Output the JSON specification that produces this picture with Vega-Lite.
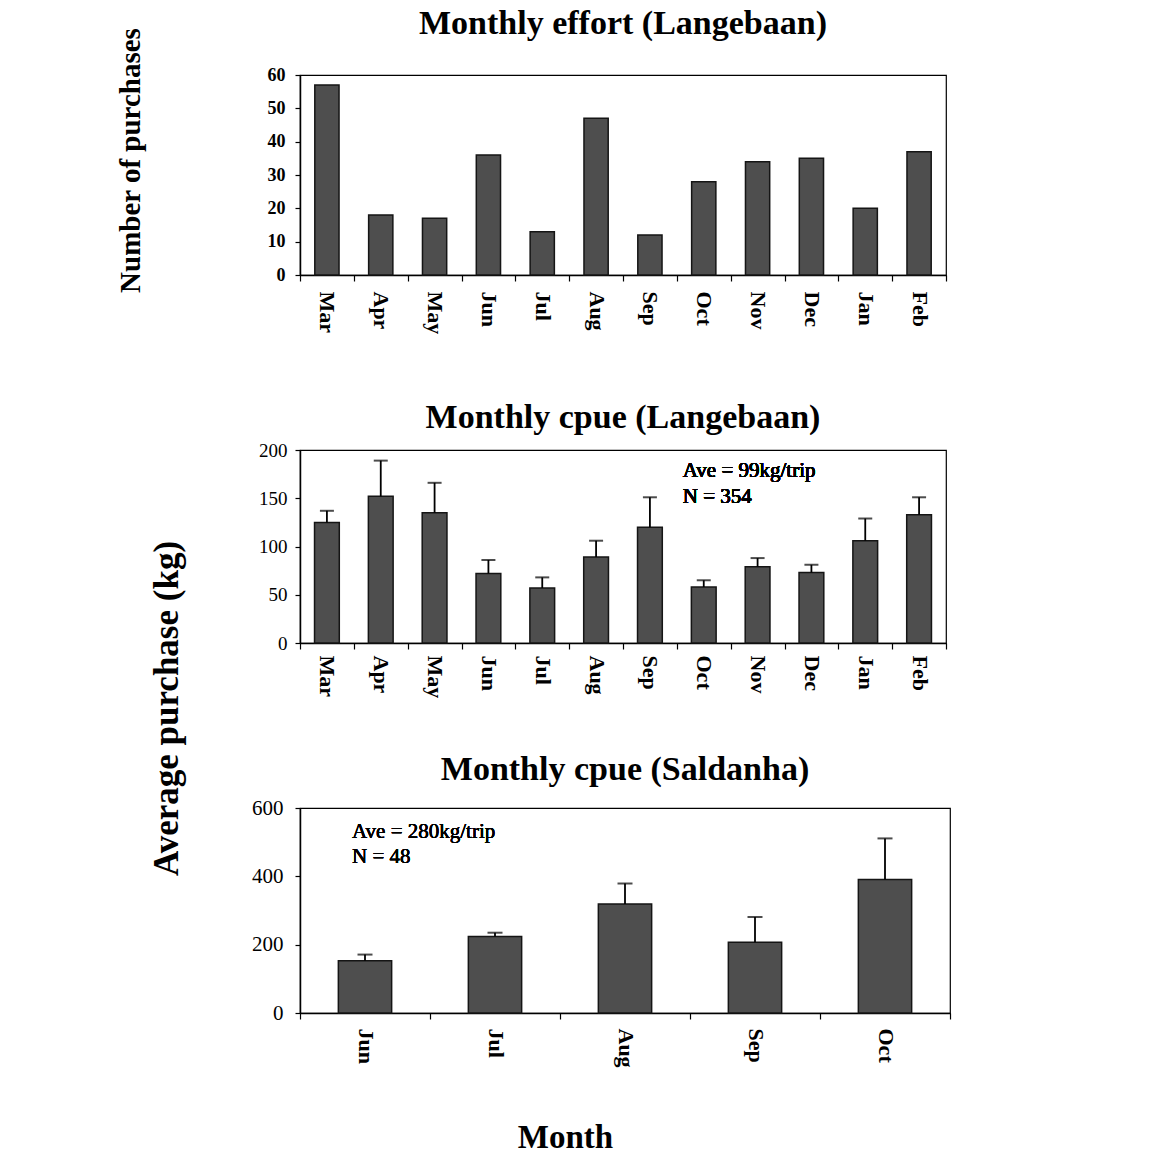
{
  "$schema": "https://vega.github.io/schema/vega-lite/v6.json",
  "background": "white",
  "padding": {"left": 115, "top": 6, "right": 20, "bottom": 10},
  "config": {
    "font": "Liberation Serif",
    "view": {"stroke": "#000", "strokeWidth": 1.2},
    "axis": {
      "domainColor": "#000",
      "domainWidth": 1.5,
      "tickColor": "#000",
      "tickWidth": 1.2,
      "labelColor": "#000",
      "titleColor": "#000",
      "labelFont": "Liberation Serif",
      "titleFont": "Liberation Serif",
      "grid": false
    },
    "title": {"font": "Liberation Serif", "fontWeight": "bold", "color": "#000", "anchor": "middle", "frame": "group"}
  },
  "spacing": 175,
  "bounds": "flush",
  "vconcat": [
    {
      "width": 646,
      "height": 200,
      "title": {"text": "Monthly effort (Langebaan)", "fontSize": 34, "offset": -14},
      "data": {
        "values": [
          {"month": "Mar", "purchases": 57},
          {"month": "Apr", "purchases": 18},
          {"month": "May", "purchases": 17},
          {"month": "Jun", "purchases": 36},
          {"month": "Jul", "purchases": 13},
          {"month": "Aug", "purchases": 47},
          {"month": "Sep", "purchases": 12},
          {"month": "Oct", "purchases": 28},
          {"month": "Nov", "purchases": 34},
          {"month": "Dec", "purchases": 35},
          {"month": "Jan", "purchases": 20},
          {"month": "Feb", "purchases": 37}
        ]
      },
      "mark": {"type": "bar", "width": {"band": 0.45}, "fill": "#4e4e4e", "stroke": "#151515", "strokeWidth": 1.5},
      "encoding": {
        "x": {
          "field": "month", "type": "nominal", "sort": null,
          "scale": {"paddingInner": 0, "paddingOuter": 0},
          "axis": {"title": null, "labelAngle": 90, "labelFontSize": 22, "labelFontWeight": "bold", "labelPadding": 10, "tickBand": "extent", "tickSize": 6}
        },
        "y": {
          "field": "purchases", "type": "quantitative",
          "scale": {"domain": [0, 60], "nice": false},
          "axis": {
            "values": [0, 10, 20, 30, 40, 50, 60],
            "labelFontSize": 18, "labelFontWeight": "bold", "tickSize": 5, "labelPadding": 10,
            "title": "Number of purchases", "titleFontSize": 29, "titleFontWeight": "bold",
            "titleAngle": -90, "titleAlign": "center", "titleBaseline": "middle",
            "titleX": -170, "titleY": 85
          }
        }
      }
    },
    {
      "spacing": 165,
      "bounds": "flush",
      "vconcat": [
        {
          "width": 646,
          "height": 193,
          "title": {"text": "Monthly cpue (Langebaan)", "fontSize": 34, "offset": 6},
          "data": {
            "values": [
              {"month": "Mar", "mean": 125, "upper": 137},
              {"month": "Apr", "mean": 152, "upper": 189},
              {"month": "May", "mean": 135, "upper": 166},
              {"month": "Jun", "mean": 72, "upper": 86},
              {"month": "Jul", "mean": 57, "upper": 68},
              {"month": "Aug", "mean": 89, "upper": 106},
              {"month": "Sep", "mean": 120, "upper": 151},
              {"month": "Oct", "mean": 58, "upper": 65},
              {"month": "Nov", "mean": 79, "upper": 88},
              {"month": "Dec", "mean": 73, "upper": 81},
              {"month": "Jan", "mean": 106, "upper": 129},
              {"month": "Feb", "mean": 133, "upper": 151}
            ]
          },
          "encoding": {
            "x": {
              "field": "month", "type": "nominal", "sort": null,
              "scale": {"paddingInner": 0, "paddingOuter": 0},
              "axis": {"title": null, "labelAngle": 90, "labelFontSize": 22, "labelFontWeight": "bold", "labelPadding": 6, "tickBand": "extent", "tickSize": 6}
            },
            "y": {
              "field": "mean", "type": "quantitative",
              "scale": {"domain": [0, 200], "nice": false},
              "axis": {
                "values": [0, 50, 100, 150, 200],
                "labelFontSize": 19, "tickSize": 5, "labelPadding": 8,
                "title": "Average purchase (kg)", "titleFontSize": 35, "titleFontWeight": "bold",
                "titleAngle": -90, "titleAlign": "center", "titleBaseline": "middle",
                "titleX": -134, "titleY": 258
              }
            }
          },
          "layer": [
            {"mark": {"type": "bar", "width": {"band": 0.46}, "fill": "#4e4e4e", "stroke": "#151515", "strokeWidth": 1.5}},
            {"mark": {"type": "rule", "color": "#000", "strokeWidth": 1.8}, "encoding": {"y2": {"field": "upper"}}},
            {"mark": {"type": "tick", "color": "#000", "size": 14, "thickness": 2}, "encoding": {"y": {"field": "upper", "type": "quantitative"}}},
            {
              "mark": {"type": "text", "text": ["Ave = 99kg/trip", "N = 354"], "align": "left", "baseline": "alphabetic", "dx": -21, "fontSize": 21, "fontWeight": "normal", "lineHeight": 26, "color": "#000"},
              "encoding": {"x": {"datum": "Oct"}, "y": {"datum": 172}}
            }
          ]
        },
        {
          "width": 650,
          "height": 205,
          "title": {"text": "Monthly cpue (Saldanha)", "fontSize": 34, "offset": 10},
          "data": {
            "values": [
              {"month": "Jun", "mean": 153, "upper": 171},
              {"month": "Jul", "mean": 224, "upper": 235},
              {"month": "Aug", "mean": 319, "upper": 379},
              {"month": "Sep", "mean": 207, "upper": 281},
              {"month": "Oct", "mean": 391, "upper": 511}
            ]
          },
          "encoding": {
            "x": {
              "field": "month", "type": "nominal", "sort": null,
              "scale": {"paddingInner": 0, "paddingOuter": 0},
              "axis": {
                "labelAngle": 90, "labelFontSize": 22, "labelFontWeight": "bold", "labelPadding": 9, "tickBand": "extent", "tickSize": 6,
                "title": "Month", "titleFontSize": 33, "titleFontWeight": "bold",
                "titleAlign": "center", "titleBaseline": "middle", "titleX": 265, "titleY": 124
              }
            },
            "y": {
              "field": "mean", "type": "quantitative",
              "scale": {"domain": [0, 600], "nice": false},
              "axis": {"values": [0, 200, 400, 600], "labelFontSize": 21, "tickSize": 5, "labelPadding": 12, "title": null}
            }
          },
          "layer": [
            {"mark": {"type": "bar", "width": {"band": 0.41}, "fill": "#4e4e4e", "stroke": "#151515", "strokeWidth": 1.5}},
            {"mark": {"type": "rule", "color": "#000", "strokeWidth": 1.8}, "encoding": {"y2": {"field": "upper"}}},
            {"mark": {"type": "tick", "color": "#000", "size": 15, "thickness": 2}, "encoding": {"y": {"field": "upper", "type": "quantitative"}}},
            {
              "mark": {"type": "text", "text": ["Ave = 280kg/trip", "N = 48"], "align": "left", "baseline": "alphabetic", "dx": -13, "fontSize": 21, "fontWeight": "normal", "lineHeight": 25, "color": "#000"},
              "encoding": {"x": {"datum": "Jun"}, "y": {"datum": 512}}
            }
          ]
        }
      ]
    }
  ]
}
